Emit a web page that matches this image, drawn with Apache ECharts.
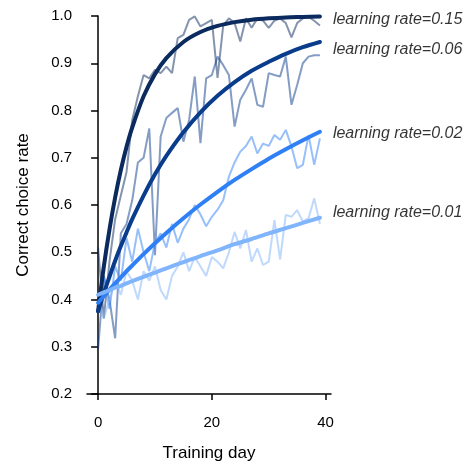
<!DOCTYPE html>
<html>
<head>
<meta charset="utf-8">
<script src="https://cdn.jsdelivr.net/npm/echarts@6/dist/echarts.min.js"></script>
<style>
  html, body { margin: 0; padding: 0; background: #fff; }
  #chart { width: 470px; height: 469px; }
</style>
</head>
<body>
<div id="chart"></div>
<script>
// 训练天数 0..39
const days = [];
for (let i = 0; i < 40; i++) days.push(i);

// 模型曲线取样天数
const fitDays = [0, 1, 2, 3, 4, 5, 6, 8, 10, 12, 15, 18, 21, 24, 27, 30, 33, 36, 39];
const fit015 = [0.375, 0.469, 0.548, 0.616, 0.674, 0.723, 0.764, 0.830, 0.877, 0.911, 0.945, 0.966, 0.979, 0.987, 0.992, 0.995, 0.997, 0.998, 0.999];
const fit006 = [0.375, 0.413, 0.448, 0.482, 0.513, 0.542, 0.570, 0.620, 0.665, 0.704, 0.754, 0.796, 0.831, 0.860, 0.884, 0.903, 0.920, 0.934, 0.945];
const fit002 = [0.393, 0.407, 0.421, 0.434, 0.447, 0.460, 0.472, 0.496, 0.519, 0.541, 0.572, 0.601, 0.628, 0.653, 0.676, 0.698, 0.718, 0.737, 0.755];
const fit001 = [0.410, 0.415, 0.420, 0.425, 0.429, 0.434, 0.439, 0.448, 0.457, 0.466, 0.479, 0.492, 0.504, 0.517, 0.528, 0.540, 0.551, 0.562, 0.573];

// 每天的实际正确率
const raw015 = [0.51, 0.36, 0.48, 0.57, 0.62, 0.67, 0.78, 0.83, 0.875, 0.868,
  0.886, 0.879, 0.893, 0.879, 0.953, 0.96, 0.992, 0.999, 0.978, 0.985,
  0.992, 0.869, 0.98, 0.995, 0.985, 0.946, 0.995, 0.975, 0.995, 0.99,
  0.975, 0.99, 0.995, 0.985, 0.955, 0.985, 0.995, 0.998, 0.99, 0.98];
const raw006 = [0.295, 0.45, 0.40, 0.318, 0.54, 0.56, 0.61, 0.69, 0.70, 0.762,
  0.494, 0.745, 0.784, 0.795, 0.805, 0.734, 0.78, 0.872, 0.731, 0.868,
  0.875, 0.914, 0.896, 0.875, 0.766, 0.823, 0.844, 0.868, 0.812, 0.808,
  0.879, 0.875, 0.872, 0.914, 0.812, 0.854, 0.90, 0.914, 0.917, 0.917];
const raw002 = [0.39, 0.45, 0.38, 0.47, 0.44, 0.53, 0.48, 0.55, 0.50, 0.46,
  0.52, 0.54, 0.51, 0.56, 0.52, 0.55, 0.57, 0.60, 0.58, 0.555,
  0.575, 0.59, 0.61, 0.66, 0.69, 0.713, 0.725, 0.745, 0.709, 0.73,
  0.725, 0.748, 0.738, 0.759, 0.724, 0.678, 0.685, 0.748, 0.685, 0.741];
const raw001 = [0.41, 0.36, 0.40, 0.44, 0.41, 0.46, 0.44, 0.40, 0.46, 0.44,
  0.47, 0.42, 0.40, 0.45, 0.47, 0.50, 0.46, 0.49, 0.47, 0.45,
  0.49, 0.48, 0.466, 0.50, 0.543, 0.508, 0.547, 0.48, 0.508, 0.473,
  0.48, 0.568, 0.485, 0.579, 0.575, 0.589, 0.565, 0.572, 0.614, 0.56];

const labelNames = ['learning rate=0.15', 'learning rate=0.06', 'learning rate=0.02', 'learning rate=0.01'];
const labelY = [0.992, 0.928, 0.752, 0.583];
const xTicks = [0, 20, 40];

const colors = ['#0b2a5e', '#0a3c8c', '#2f7ff5', '#80b4fb'];
const fits = [fit015, fit006, fit002, fit001];
const raws = [raw015, raw006, raw002, raw001];

function pairs(xs, ys) {
  return xs.map((x, i) => [x, ys[i]]);
}

let series = [];
raws.forEach((r, i) => {
  series.push({
    type: 'line',
    data: pairs(days, r),
    symbol: 'none',
    silent: true,
    lineStyle: { color: colors[i], width: 2, opacity: 0.5 }
  });
});
fits.forEach((f, i) => {
  series.push({
    type: 'line',
    data: pairs(fitDays, f),
    symbol: 'none',
    smooth: 0.3,
    silent: true,
    lineStyle: { color: colors[i], width: 4, cap: 'round' }
  });
});
// 曲线右侧的说明文字
series.push({
  type: 'scatter',
  symbolSize: 0,
  silent: true,
  data: labelY.map((y, i) => ({ value: [39, y], name: labelNames[i] })),
  label: {
    show: true,
    position: 'right',
    distance: 13,
    formatter: p => p.name,
    color: '#000',
    fontSize: 16,
    fontStyle: 'italic',
    fontFamily: 'Liberation Sans'
  }
});

let myChart = echarts.init(document.getElementById('chart'), null, { renderer: 'canvas' });
myChart.setOption({
  animation: false,
  textStyle: { fontFamily: 'Liberation Sans' },
  grid: { left: 87, right: 139, top: 16, bottom: 75, containLabel: false },
  xAxis: {
    type: 'value',
    min: -1.95,
    max: 40.95,
    name: 'Training day',
    nameLocation: 'middle',
    nameGap: 51,
    nameTextStyle: { color: '#000', fontSize: 17 },
    axisLine: { onZero: false, lineStyle: { color: '#000', width: 1.5 } },
    axisTick: { customValues: xTicks, length: 6, lineStyle: { color: '#000', width: 1.5 } },
    axisLabel: { customValues: xTicks, color: '#000', fontSize: 15, margin: 21 },
    splitLine: { show: false }
  },
  yAxis: {
    type: 'value',
    min: 0.2,
    max: 1.0,
    interval: 0.1,
    name: 'Correct choice rate',
    nameLocation: 'middle',
    nameGap: 55,
    nameTextStyle: { color: '#000', fontSize: 17 },
    axisLine: { show: true, lineStyle: { color: '#000', width: 1.5 } },
    axisTick: { show: true, length: 7, lineStyle: { color: '#000', width: 1.5 } },
    axisLabel: { color: '#000', fontSize: 15, margin: 15, formatter: v => v.toFixed(1) },
    splitLine: { show: false }
  },
  series: series
});
</script>
</body>
</html>
